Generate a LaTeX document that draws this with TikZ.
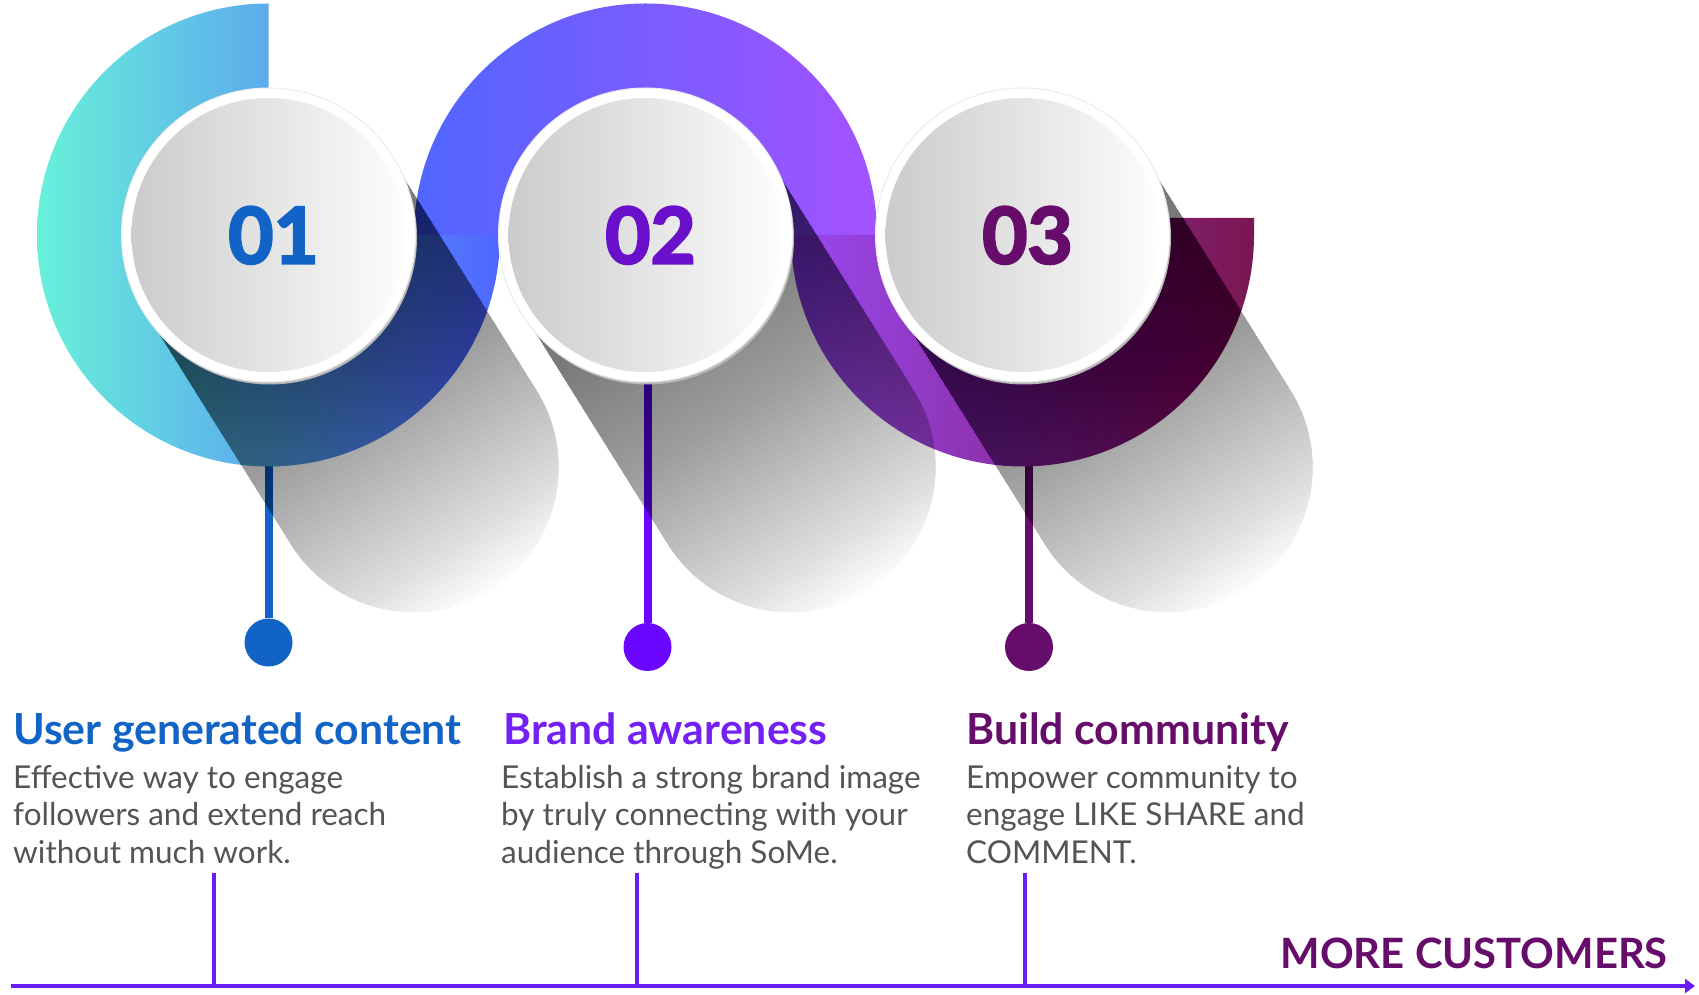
\documentclass[tikz,border=0pt]{standalone}
\usepackage{fontspec}
\setmainfont{Lato}
\newfontfamily\numfont{Lato}[FakeBold=3]
\usetikzlibrary{arrows.meta,shadows}

\definecolor{ugcblue}{HTML}{1263C6}
\definecolor{numviolet}{HTML}{6A10CA}
\definecolor{brandviolet}{HTML}{7420F5}
\definecolor{pinviolet}{HTML}{6A05FF}
\definecolor{plum}{HTML}{660C6A}
\definecolor{bodygray}{HTML}{545454}
\definecolor{axisviolet}{HTML}{6A1CF6}
\definecolor{mint}{HTML}{68F0DA}
\definecolor{sky}{HTML}{4EA8EE}
\definecolor{royal}{HTML}{4F66FF}
\definecolor{iris}{HTML}{7660FF}
\definecolor{lilac}{HTML}{A452FF}
\definecolor{grape}{HTML}{9A48F2}
\definecolor{berry}{HTML}{8C2C9E}
\definecolor{wine}{HTML}{7A1650}

\begin{document}
\begin{tikzpicture}[x=1pt,y=1pt]
  \useasboundingbox (0,0) rectangle (1699,994);
  \coordinate (c1) at (268.5,759);
  \coordinate (c2) at (645.5,759);
  \coordinate (c3) at (1022.5,759);

  \tikzstyle{Pin}=[line width=8pt]
  \tikzstyle{Dot}=[circle,minimum size=48pt,inner sep=0pt]
  \node[Dot,fill=ugcblue] (d1) at (268.5,351.5) {};
  \node[Dot,fill=pinviolet] (d2) at (647.5,347) {};
  \node[Dot,fill=plum] (d3) at (1029,347) {};
  \draw[Pin,ugcblue] (d1) -- (d1 |- c1);
  \draw[Pin,pinviolet] (d2) -- (d2 |- c2);
  \draw[Pin,plum] (d3) -- (d3 |- c3);

  \shade[left color=mint,middle color=sky,right color=royal]
    (c1) ++(0,231.5) arc[start angle=90,end angle=360,radius=231.5]
    -- ++(-86,0) arc[start angle=360,end angle=90,radius=145.5] -- cycle;
  \shade[left color=royal,middle color=iris,right color=lilac]
    (c2) ++(-231.5,0) arc[start angle=180,end angle=0,radius=231.5]
    -- ++(-86,0) arc[start angle=0,end angle=180,radius=145.5] -- cycle;
  \shade[left color=grape,middle color=berry,right color=wine]
    (c3) ++(-231.5,0) arc[start angle=180,end angle=360,radius=231.5]
    -- ++(0,17) -- ++(-86,0) -- ++(0,-17)
    arc[start angle=360,end angle=180,radius=145.5] -- cycle;

  \foreach \c in {c1,c2,c3}{
    \begin{scope}[shift={(\c)},rotate=-58]
      \clip (0,145) -- (274,145) arc[start angle=90,end angle=-90,radius=145]
        -- (0,-145) arc[start angle=270,end angle=90,radius=145] -- cycle;
      \foreach \i in {1,...,48}
        \fill[black,opacity=0.0142] (-150,-150) rectangle (60+7.5*\i,150);
    \end{scope}
  }

  \tikzstyle{Disc}=[circle,minimum size=294pt,inner sep=0pt,fill=white,
    draw=gray!15,line width=1pt,
    general shadow={fill=gray!55,shadow xshift=1.5pt,shadow yshift=-2.5pt},
    path picture={\shade[left color=gray!42,middle color=gray!4,right color=white]
      (path picture bounding box.center) circle (137pt);},
    font=\fontsize{78}{80}\selectfont\numfont\bfseries,text depth=0pt]
  \node[Disc,text=ugcblue] (n1) at (c1) {\hspace{10pt}01};
  \node[Disc,text=numviolet] (n2) at (c2) {\hspace{10pt}02};
  \node[Disc,text=plum] (n3) at (c3) {\hspace{10pt}03};

  \tikzstyle{Head}=[anchor=base west,inner sep=0pt,font=\fontsize{42.8}{46}\selectfont\bfseries]
  \tikzstyle{Body}=[anchor=base west,inner sep=0pt,align=left,text=bodygray,
    font=\fontsize{31.5}{37.5}\selectfont]
  \node[Head,text=ugcblue] (h1) at (13,250) {User generated content};
  \node[Head,text=brandviolet] (h2) at (503,250) {Brand awareness};
  \node[Head,text=plum] (h3) at (966,250) {Build community};
  \node[Body] (b1) at (13,131) {Effective way to engage\\followers and extend reach\\without much work.};
  \node[Body] (b2) at (501,131) {Establish a strong brand image\\by truly connecting with your\\audience through SoMe.};
  \node[Body] (b3) at (966,131) {Empower community to\\engage LIKE SHARE and\\COMMENT.};

  \coordinate (a0) at (11,8);
  \coordinate (a1) at (1695,8);
  \draw[axisviolet,line width=4.5pt,-{Triangle[length=10pt,width=14pt]}] (a0) -- (a1);
  \foreach \x/\t in {213.5/t1,637/t2,1025/t3}{
    \coordinate (\t) at (\x,121);
    \draw[axisviolet,line width=4pt] (\t) -- (\t |- a0);
  }
  \node[anchor=base east,inner sep=0pt,text=plum,
    font=\fontsize{41.8}{44}\selectfont\bfseries] (more) at (1668,26) {MORE CUSTOMERS};
\end{tikzpicture}
\end{document}
